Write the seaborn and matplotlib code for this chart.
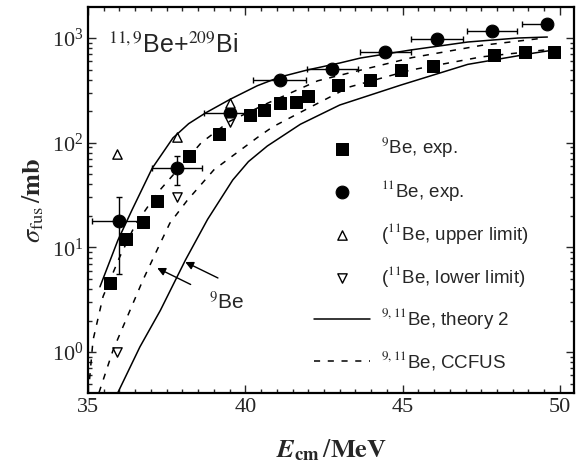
import numpy as np
import pandas as pd
import seaborn as sns
import matplotlib
matplotlib.use("Agg")
import matplotlib.pyplot as plt

# 9Be experimental points
be9_e = [35.7, 36.2, 36.75, 37.2, 38.2, 39.15, 40.15, 40.6, 41.1, 41.6, 42.0, 42.95, 43.95, 44.95, 45.95, 47.9, 48.9, 49.8]
be9_s = [4.6, 12, 17.5, 28, 75, 121, 184, 205, 240, 245, 280, 356, 397, 494, 541, 689, 735, 735]

# 11Be experimental points with x errors
be11_e = [36.0, 37.83, 39.5, 41.1, 42.77, 44.45, 46.1, 47.85, 49.6]
be11_s = [17.9, 57, 192, 397, 506, 735, 978, 1167, 1361]
be11_xlo = [0.86, 0.8, 0.8, 0.84, 0.8, 0.8, 0.82, 0.8, 0.8]
be11_xhi = [0.86, 0.8, 0.8, 0.84, 0.8, 0.8, 0.82, 0.8, 0.0]
# y errors only on the two lowest points
be11_yerr_e = [36.0, 37.83]
be11_yerr_s = [17.9, 57]
be11_ylo = [12.3, 17.4]
be11_yhi = [12.4, 18]

# upper / lower limits
up_e = [35.92, 37.83, 39.5]
up_s = [78, 113, 239]
lo_e = [35.92, 37.83, 39.5]
lo_s = [1.0, 30, 158]

# theory 2 (solid)
th11_e = [35.38, 35.95, 36.4, 37.04, 37.7, 38.2, 38.73, 39.52, 40.38, 41.1, 41.97, 43.0, 43.66, 45.25, 47.07, 48.66, 49.6]
th11_s = [4.2, 11.7, 22.8, 57, 111, 152, 192, 260, 350, 424, 495, 577, 644, 768, 916, 1000, 1022]
th9_e = [35.95, 36.65, 37.3, 38.1, 38.8, 39.6, 40.1, 40.7, 41.75, 43.0, 44.94, 47.07, 49.17, 49.8]
th9_s = [0.41, 1.12, 2.5, 7.6, 18.5, 44, 66, 93, 150, 229, 355, 560, 718, 768]

# CCFUS (dashed)
cc11_e = [35.05, 35.16, 35.48, 36.0, 36.5, 37.2, 38.0, 38.6, 39.5, 40.73, 42.3, 43.5, 45.3, 47.5, 49.5]
cc11_s = [0.55, 1.3, 3.4, 8, 16.4, 33, 62, 100, 160, 240, 390, 480, 650, 850, 1000]
cc9_e = [35.35, 35.8, 36.75, 37.2, 37.6, 38.15, 39.0, 39.6, 40.4, 40.86, 42.07, 42.5, 43.3, 45.25, 47.5, 49.5]
cc9_s = [0.41, 1.05, 4.9, 9.5, 17, 28, 55, 75, 113, 141, 219, 255, 340, 494, 660, 768]

sns.set_style("ticks")
plt.rcParams["font.family"] = ["Liberation Serif", "DejaVu Serif"]
plt.rcParams["mathtext.fontset"] = "stix"

fig = plt.figure(figsize=(5.77, 4.69), dpi=100)
ax = fig.add_axes([0.1525, 0.162, 0.8425, 0.823])

sns.lineplot(x=th11_e, y=th11_s, ax=ax, color="k", lw=1.1, sort=False, label="$^{9,11}$Be, theory 2")
sns.lineplot(x=th9_e, y=th9_s, ax=ax, color="k", lw=1.1, sort=False)
sns.lineplot(x=cc11_e, y=cc11_s, ax=ax, color="k", lw=1.1, sort=False, linestyle=(0, (4, 5)), label="$^{9,11}$Be, CCFUS")
sns.lineplot(x=cc9_e, y=cc9_s, ax=ax, color="k", lw=1.1, sort=False, linestyle=(0, (4, 5)))

ax.errorbar(be11_e, be11_s, xerr=[be11_xlo, be11_xhi], fmt="none", ecolor="k", elinewidth=1, capsize=2.5)
ax.errorbar(be11_yerr_e, be11_yerr_s, yerr=[be11_ylo, be11_yhi], fmt="none", ecolor="k", elinewidth=1, capsize=2.5)

sns.scatterplot(x=be9_e, y=be9_s, ax=ax, marker="s", s=80, color="k", edgecolor="k", label="$^9$Be, exp.")
sns.scatterplot(x=be11_e, y=be11_s, ax=ax, marker="o", s=85, color="k", edgecolor="k", label="$^{11}$Be, exp.")
sns.scatterplot(x=up_e, y=up_s, ax=ax, marker="^", s=45, facecolor="white", edgecolor="k", linewidth=1, label="($^{11}$Be, upper limit)")
sns.scatterplot(x=lo_e, y=lo_s, ax=ax, marker="v", s=45, facecolor="white", edgecolor="k", linewidth=1, label="($^{11}$Be, lower limit)")

ax.set_yscale("log")
ax.set_xlim(35, 50.45)
ax.set_ylim(0.406, 1977)
ax.set_xticks([35, 40, 45, 50])
ax.set_xticks(np.arange(35, 50.5, 0.5), minor=True)
ax.tick_params(which="both", direction="in", top=True, right=True, labelsize=16, width=1)
ax.tick_params(which="major", length=6)
ax.tick_params(which="minor", length=3)
for sp in ax.spines.values():
    sp.set_linewidth(1.6)
    sp.set_color("k")

ax.set_xlabel(r"$\mathbfit{E}_{\mathbf{cm}}\,/\mathbf{MeV}$", fontsize=19, labelpad=15)
ax.set_ylabel(r"$\sigma_{\mathrm{fus}}\,/\mathbf{mb}$", fontsize=19)

ax.text(0.041, 0.9, "$^{11,9}$Be+$^{209}$Bi", transform=ax.transAxes, fontsize=18,
        family=["Liberation Sans", "DejaVu Sans"], va="center", ha="left")

# arrows to the 9Be curves
ax.annotate("$^9$Be", xy=(37.2, 6.35), xytext=(39.4, 3.0), fontsize=15,
            family=["Liberation Sans", "DejaVu Sans"], ha="center", va="center",
            arrowprops=dict(arrowstyle="-|>", color="k", lw=1, shrinkA=12, shrinkB=0, mutation_scale=12))
ax.annotate("", xy=(38.09, 7.25), xytext=(39.13, 5.1),
            arrowprops=dict(arrowstyle="-|>", color="k", lw=1, shrinkA=0, shrinkB=0, mutation_scale=12))

handles, labels = ax.get_legend_handles_labels()
order = ["$^9$Be, exp.", "$^{11}$Be, exp.", "($^{11}$Be, upper limit)", "($^{11}$Be, lower limit)",
         "$^{9,11}$Be, theory 2", "$^{9,11}$Be, CCFUS"]
hmap = dict(zip(labels, handles))
ax.legend([hmap[k] for k in order], order, loc="upper left", bbox_to_anchor=(0.43, 0.71),
          frameon=False, labelspacing=0.95, handlelength=3.0, handletextpad=0.6,
          prop={"family": ["Liberation Sans", "DejaVu Sans"], "size": 13.5})

fig.savefig("out.png", dpi=100)
